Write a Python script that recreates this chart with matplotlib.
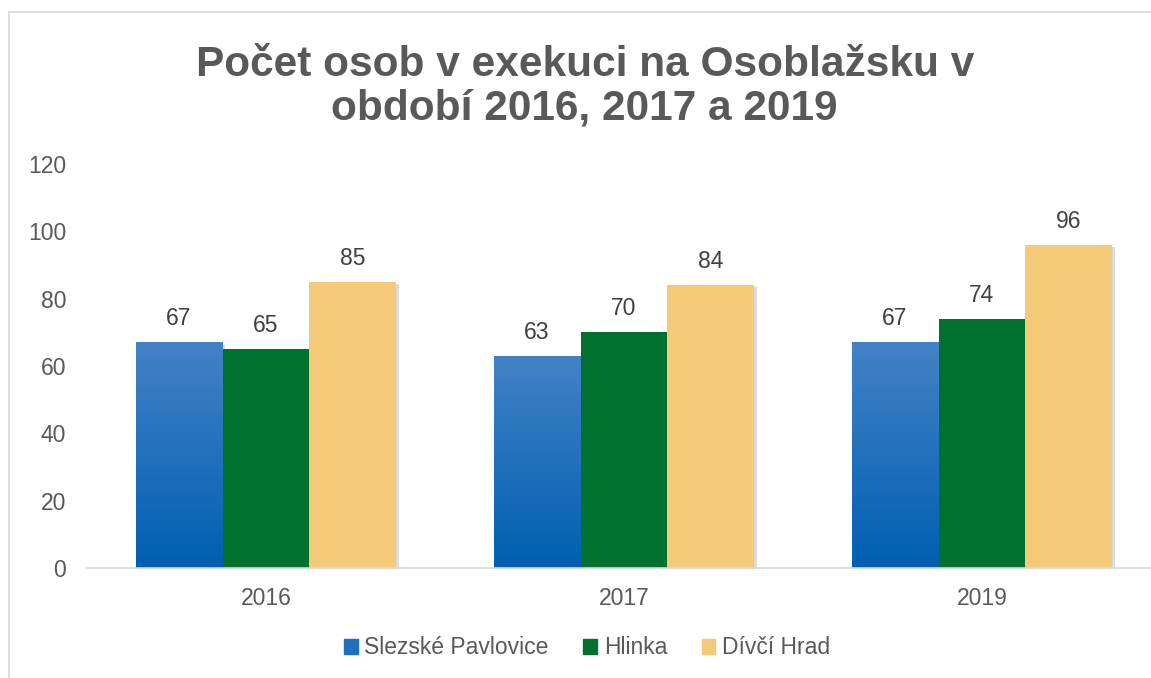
import numpy as np
import matplotlib.pyplot as plt
from matplotlib.patches import Rectangle
from matplotlib.lines import Line2D
import matplotlib.patheffects as pe

plt.rcParams['font.family'] = ['Liberation Sans', 'DejaVu Sans']

years = ['2016', '2017', '2019']
series = ['Slezské Pavlovice', 'Hlinka', 'Dívčí Hrad']
slezske = [67, 63, 67]
hlinka = [65, 70, 74]
divci = [85, 84, 96]

colors = ['#1f6fbf', '#00712f', '#f4c977']
blue_top = np.array([0x44, 0x82, 0xc6]) / 255
blue_bot = np.array([0x00, 0x5f, 0xb2]) / 255

fig = plt.figure(figsize=(11.51, 6.78), dpi=100)
ax = fig.add_axes([87 / 1151, 110 / 678, 1074 / 1151, 404 / 678])

# chart border (Excel style frame, cropped at right/bottom)
fig.add_artist(Line2D([9 / 1151, 1.0], [1 - 12 / 678] * 2, color='#d9d9d9', lw=1.2))
fig.add_artist(Line2D([9 / 1151] * 2, [0, 1 - 12 / 678], color='#d9d9d9', lw=1.2))

x = np.arange(len(years))
w = 0.243
shadow = [pe.SimplePatchShadow(offset=(1.5, -1.5), shadow_rgbFace='#888888', alpha=0.3), pe.Normal()]

grad = np.linspace(0, 1, 256).reshape(-1, 1, 1)
grad_img = blue_bot * (1 - grad) + blue_top * grad

for i, (vals, col) in enumerate(zip([slezske, hlinka, divci], colors)):
    pos = x + (i - 1) * w
    bars = ax.bar(pos, vals, width=w, color=col, zorder=2)
    for b, v in zip(bars, vals):
        b.set_path_effects(shadow)
        if i == 0:
            im = ax.imshow(grad_img, extent=[b.get_x(), b.get_x() + w, 0, v],
                           origin='lower', aspect='auto', zorder=3)
            im.set_clip_path(b)
        ax.text(b.get_x() + w / 2, v + 3.6, str(v), ha='center', va='bottom',
                fontsize=16.5, color='#404040', zorder=4)

ax.set_xlim(-0.5, 2.5)
ax.set_ylim(0, 120)
ax.set_xticks(x)
ax.set_xticklabels(years)
ax.set_yticks(range(0, 121, 20))
ax.tick_params(axis='both', length=0, labelsize=16.5, labelcolor='#595959')
ax.tick_params(axis='x', pad=14)
ax.tick_params(axis='y', pad=15)
for s in ['top', 'right', 'left']:
    ax.spines[s].set_visible(False)
ax.spines['bottom'].set_color('#d9d9d9')
ax.spines['bottom'].set_linewidth(1.2)
ax.spines['bottom'].set_zorder(5)

fig.text(0.508, 1 - 87 / 678, 'Počet osob v exekuci na Osoblažsku v\nobdobí 2016, 2017 a 2019',
         ha='center', va='center', fontsize=30.5, fontweight='bold', color='#595959',
         linespacing=1.12)

handles = [Rectangle((0, 0), 1, 1, color=c) for c in colors]
fig.legend(handles, series, loc='center', bbox_to_anchor=(587 / 1151, 1 - 648 / 678),
           ncol=3, frameon=False, fontsize=16.5, labelcolor='#595959',
           handlelength=0.6, handleheight=0.6, handletextpad=0.3, columnspacing=1.5)

fig.savefig('out.png', dpi=100, facecolor='white')
